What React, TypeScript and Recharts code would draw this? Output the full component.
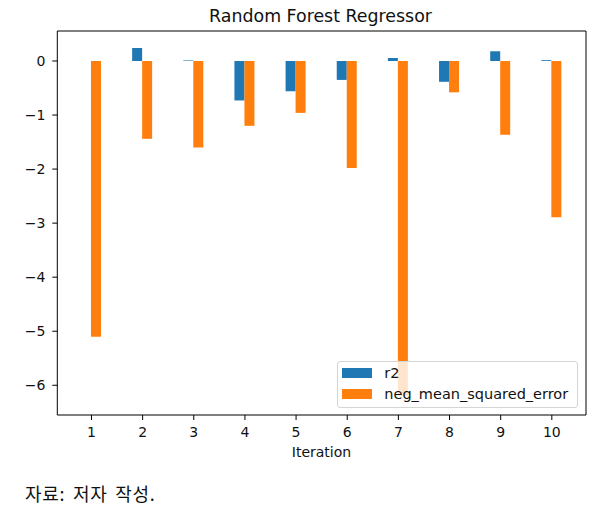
import React from "react";
import { BarChart, Bar, XAxis, YAxis, Legend } from "recharts";

const ITERATIONS = ["1", "2", "3", "4", "5", "6", "7", "8", "9", "10"];
const R2 = [0, 0.24, 0.01, -0.73, -0.56, -0.35, 0.055, -0.385, 0.18, 0.015];
const NEG_MSE = [-5.1, -1.44, -1.6, -1.2, -0.96, -1.98, -6.2, -0.58, -1.365, -2.89];
const Y_TICKS = [0, -1, -2, -3, -4, -5, -6];
const SERIES_ORDER = ["r2", "neg_mean_squared_error"];

const FONT = "'DejaVu Sans', sans-serif";

const data = ITERATIONS.map((it, i) => ({
  iteration: it,
  r2: R2[i],
  neg_mean_squared_error: NEG_MSE[i],
}));

const fmtTick = (v: number) => (v < 0 ? `\u2212${Math.abs(v)}` : String(v));

// matplotlib-style legend box
function LegendBox({ payload }: any) {
  const items = [...(payload ?? [])].sort(
    (a: any, b: any) => SERIES_ORDER.indexOf(a.dataKey) - SERIES_ORDER.indexOf(b.dataKey)
  );
  return (
    <div
      style={{
        position: "relative",
        width: 241,
        height: 47.6,
        boxSizing: "border-box",
        border: "1px solid #d5d5d5",
        borderRadius: 3,
        background: "rgba(255,255,255,0.8)",
        fontFamily: FONT,
        fontSize: 14.5,
        color: "#111",
      }}
    >
      {items.map((entry: any, i: number) => (
        <div
          key={entry.value}
          style={{
            position: "absolute",
            left: 4,
            top: 6 + i * 21.6,
            height: 10,
            display: "flex",
            alignItems: "center",
            whiteSpace: "nowrap",
          }}
        >
          <span style={{ width: 30, height: 10, background: entry.color, display: "inline-block" }} />
          <span style={{ marginLeft: 12, lineHeight: "10px" }}>{entry.value}</span>
        </div>
      ))}
    </div>
  );
}

export default function App() {
  return (
    <div style={{ position: "absolute", left: 0, top: 0, width: 609, height: 508, background: "#fff" }}>
      <BarChart
        width={609}
        height={508}
        data={data}
        margin={{ top: 30, right: 22, bottom: 53, left: 0 }}
        barCategoryGap="29.5%"
        barGap={0}
      >
        <XAxis
          dataKey="iteration"
          interval={0}
          padding={{ left: 8.6, right: 8.6 }}
          height={40}
          tickSize={5}
          tickMargin={7}
          axisLine={{ stroke: "#000" }}
          tickLine={{ stroke: "#000" }}
          tick={{ fill: "#111", fontSize: 14, fontFamily: FONT }}
        />
        {/* top and right spines */}
        <XAxis
          xAxisId="top"
          orientation="top"
          dataKey="iteration"
          height={1}
          tick={false}
          tickLine={false}
          axisLine={{ stroke: "#000" }}
        />
        <YAxis
          type="number"
          domain={[-6.55, 0.555]}
          ticks={Y_TICKS}
          allowDataOverflow
          width={57.3}
          tickSize={5}
          tickMargin={7}
          tickFormatter={fmtTick}
          axisLine={{ stroke: "#000" }}
          tickLine={{ stroke: "#000" }}
          tick={{ fill: "#111", fontSize: 14, fontFamily: FONT }}
        />
        <YAxis
          yAxisId="right"
          orientation="right"
          type="number"
          domain={[-6.55, 0.555]}
          ticks={Y_TICKS}
          width={1}
          tick={false}
          tickLine={false}
          axisLine={{ stroke: "#000" }}
        />
        <Bar dataKey="r2" fill="#1f77b4" isAnimationActive={false} />
        <Bar dataKey="neg_mean_squared_error" fill="#ff7f0e" isAnimationActive={false} />
        <Legend
          layout="vertical"
          align="center"
          verticalAlign="middle"
          content={<LegendBox />}
          wrapperStyle={{ left: 337.3, top: 360.7, width: 241, height: 47.6 }}
        />
      </BarChart>
      <svg
        width={609}
        height={508}
        style={{ position: "absolute", left: 0, top: 0, pointerEvents: "none" }}
      >
        <text x={320.5} y={22.3} textAnchor="middle" fontFamily={FONT} fontSize={17.4} fill="#111">
          Random Forest Regressor
        </text>
        <text x={321.5} y={456.5} textAnchor="middle" fontFamily={FONT} fontSize={14} fill="#111">
          Iteration
        </text>
        <text
          x={25}
          y={500.5}
          fontFamily="'Noto Sans CJK KR', sans-serif"
          fontSize={18}
          letterSpacing={0.7}
          wordSpacing={3}
          fill="#111"
        >
          자료: 저자 작성.
        </text>
      </svg>
    </div>
  );
}
